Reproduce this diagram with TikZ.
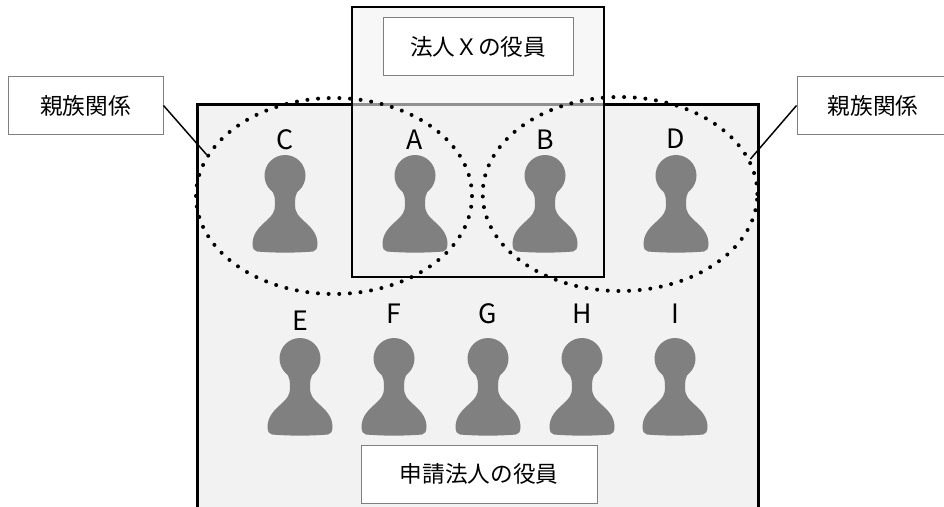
\documentclass[tikz,border=0pt]{standalone}
\usepackage{fontspec}
\setmainfont{Noto Sans CJK JP}
\usetikzlibrary{shapes.geometric}
\definecolor{pawngray}{HTML}{808080}
\definecolor{boxgray}{HTML}{F2F2F2}
\definecolor{edgegray}{HTML}{7F7F7F}
\begin{document}
\begin{tikzpicture}[x=0.75pt,y=-0.75pt,
  pawn/.pic={
    \fill[pawngray] (0,20.5) circle[radius=20.5];
    \fill[pawngray] (-14,34) .. controls (-10,40) and (-10,44) .. (-10,50)
      .. controls (-10,56) and (-12,60) .. (-20,67)
      .. controls (-28,74) and (-32,80) .. (-32.5,88)
      .. controls (-32.5,94) and (-31,96) .. (-28,96.5)
      .. controls (-10,98) and (10,98) .. (28,96.5)
      .. controls (31,96) and (32.5,94) .. (32.5,88)
      .. controls (32,80) and (28,74) .. (20,67)
      .. controls (12,60) and (10,56) .. (10,50)
      .. controls (10,44) and (10,40) .. (14,34) -- cycle;
  },
  letter/.style={font=\fontsize{20}{23}\selectfont, inner sep=0pt},
  jbox/.style={draw=edgegray, line width=0.75pt, fill=white,
    font=\fontsize{17}{20}\selectfont, inner sep=0pt, minimum height=44pt},
  dotell/.style={ellipse, draw=black, line width=3pt, dash pattern=on 0pt off 8pt,
    line cap=round, inner sep=0pt},
  callout/.style={draw=black, line width=1.1pt}]
\useasboundingbox (0,0) rectangle (944,506);
\fill[white] (0,0) rectangle (944,506);
% applicant corporation box
\fill[boxgray] (197,105) rectangle (758,510);
\draw[line width=2.25pt] (197,510) -- (197,105) -- (758,105) -- (758,510);
% corporation X box
\draw[line width=1.9pt, fill=boxgray, fill opacity=0.6] (352,7) rectangle (604,277);
% pawns
\foreach \px/\py in {285/155, 415/155, 545/155, 676/155,
                     300/338, 394/338, 488/338, 582/338, 675/338}
  \pic at (\px,\py) {pawn};
% letters
\node[letter] (lC) at (285,140) {C};
\node[letter] (lA) at (415,140) {A};
\node[letter] (lB) at (545,140) {B};
\node[letter] (lD) at (676,139) {D};
\node[letter] (lE) at (300,321) {E};
\node[letter] (lF) at (394,314) {F};
\node[letter] (lG) at (488,314) {G};
\node[letter] (lH) at (582,314) {H};
\node[letter] (lI) at (675,314) {I};
% dotted ellipses
\node[dotell, minimum width=207pt, minimum height=147pt] (ellL) at (334,196) {};
\node[dotell, minimum width=206pt, minimum height=145.5pt] (ellR) at (620,194) {};
% label boxes
\node[jbox, minimum width=142.5pt] (bX) at (478,46.5) {法人Ｘの役員};
\node[jbox, minimum width=177pt, minimum height=43.5pt] (bS) at (479,474) {申請法人の役員};
\node[jbox, minimum width=116.25pt] (bL) at (85.5,105.5) {親族関係};
\node[jbox, minimum width=114pt] (bR) at (873,105.5) {親族関係};
% callouts
\draw[callout] (bL.east) -- (ellL.162);
\draw[callout] (bR.west) -- (ellR.15);
\end{tikzpicture}
\end{document}
